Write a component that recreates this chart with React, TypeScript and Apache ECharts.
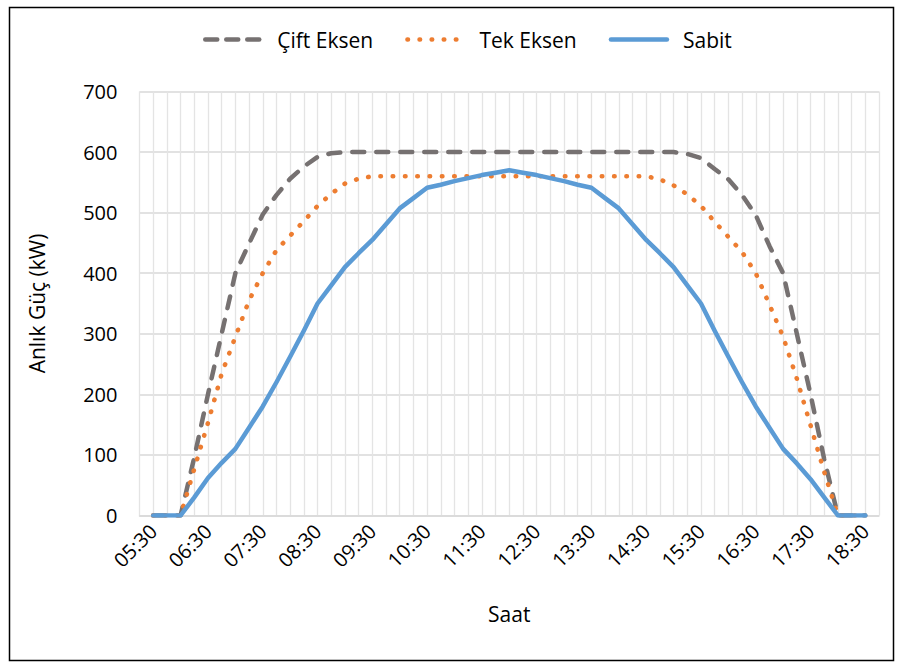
import React, { useEffect, useRef } from "react";
import * as echarts from "echarts";

// Quarter-hour time stamps of the day (x axis)
const times: string[] = [
  "05:30", "05:45", "06:00", "06:15", "06:30", "06:45", "07:00", "07:15",
  "07:30", "07:45", "08:00", "08:15", "08:30", "08:45", "09:00", "09:15",
  "09:30", "09:45", "10:00", "10:15", "10:30", "10:45", "11:00", "11:15",
  "11:30", "11:45", "12:00", "12:15", "12:30", "12:45", "13:00", "13:15",
  "13:30", "13:45", "14:00", "14:15", "14:30", "14:45", "15:00", "15:15",
  "15:30", "15:45", "16:00", "16:15", "16:30", "16:45", "17:00", "17:15",
  "17:30", "17:45", "18:00", "18:15", "18:30",
];

// Instantaneous power (kW) — dual-axis tracking
const ciftEksen: number[] = [
  0, 0, 0, 96, 200, 300, 400, 449, 497, 529, 556, 576, 592, 598, 600, 600,
  600, 600, 600, 600, 600, 600, 600, 600, 600, 600, 600, 600, 600, 600, 600, 600,
  600, 600, 600, 600, 600, 600, 600, 597, 590, 572, 555, 529, 496, 445, 400, 300,
  200, 93, 0, 0, 0,
];

// Instantaneous power (kW) — single-axis tracking
const tekEksen: number[] = [
  0, 0, 0, 77, 153, 234, 295, 355, 400, 438, 462, 486, 511, 531, 548, 556,
  560, 560, 560, 560, 560, 560, 560, 560, 560, 560, 560, 560, 560, 560, 560, 560,
  560, 560, 560, 560, 560, 555, 545, 530, 511, 485, 460, 435, 400, 348, 295, 226,
  149, 72, 0, 0, 0,
];

// Instantaneous power (kW) — fixed panels
const sabit: number[] = [
  0, 0, 0, 30, 62, 87, 110, 145, 180, 220, 262, 305, 350, 380, 410, 433,
  455, 481, 507, 524, 541, 546, 552, 557, 562, 566, 570, 566, 562, 557, 552, 546,
  541, 524, 507, 481, 455, 433, 410, 380, 350, 305, 262, 220, 180, 145, 110, 86,
  60, 30, 0, 0, 0,
];

const FONT = "'Open Sans', 'Noto Sans', sans-serif";
const FS = 21;

const GRAY = "#767171";
const ORANGE = "#ED7D31";
const BLUE = "#5B9BD5";

const toMinutes = (t: string): number => {
  const [h, m] = t.split(":").map(Number);
  return h * 60 + m;
};

const fmtTime = (v: number): string => {
  const h = Math.floor(v / 60);
  const m = v % 60;
  return `${String(h).padStart(2, "0")}:${String(m).padStart(2, "0")}`;
};

const pairs = (vals: number[]) => times.map((t, i) => [toMinutes(t), vals[i]]);

export default function App() {
  const ref = useRef<HTMLDivElement>(null);

  useEffect(() => {
    if (!ref.current) return;
    const chart = echarts.init(ref.current, undefined, { renderer: "svg" });
    const firstLabel = toMinutes(times[0]);

    chart.setOption({
      animation: false,
      backgroundColor: "#fff",
      textStyle: { fontFamily: FONT },
      graphic: [
        {
          type: "rect",
          silent: true,
          z: -10,
          shape: { x: 9.5, y: 7.5, width: 884, height: 653 },
          style: { fill: "none", stroke: "#000", lineWidth: 1.5 },
        },
      ],
      legend: {
        top: 24,
        left: 198,
        itemWidth: 56,
        itemHeight: 14,
        itemGap: 32,
        itemStyle: { opacity: 0 },
        lineStyle: { width: 4.5, cap: "round" },
        textStyle: {
          fontFamily: FONT,
          fontSize: FS,
          color: "#000",
          padding: [0, 0, 0, 11],
        },
        data: [
          { name: "Çift Eksen", lineStyle: { type: [12, 9], width: 4.5, cap: "round" } },
          { name: "Tek Eksen", lineStyle: { type: [0.5, 11.6], width: 4.6, cap: "round" } },
          { name: "Sabit", lineStyle: { width: 4.5, cap: "round" } },
        ],
      },
      grid: { left: 139.5, right: 25, top: 91.5, bottom: 152.5, containLabel: false },
      xAxis: {
        type: "value",
        min: 315,
        max: 1125,
        interval: 15,
        name: "Saat",
        nameLocation: "middle",
        nameGap: 88,
        nameTextStyle: { fontFamily: FONT, fontSize: FS, color: "#000" },
        axisLine: { show: true, lineStyle: { color: "#D9D9D9", width: 1.5 } },
        axisTick: { show: false },
        axisLabel: {
          rotate: 45,
          margin: 12,
          fontFamily: FONT,
          fontSize: 20,
          color: "#000",
          formatter: (v: number) =>
            v >= firstLabel && (v - firstLabel) % 60 === 0 ? fmtTime(v) : "",
        },
        splitLine: { show: true, lineStyle: { color: "#E4E4E4", width: 1.3 } },
      },
      yAxis: {
        type: "value",
        min: 0,
        max: 700,
        interval: 100,
        name: "Anlık Güç (kW)",
        nameLocation: "middle",
        nameGap: 92,
        nameTextStyle: { fontFamily: FONT, fontSize: FS, color: "#000" },
        axisLine: { show: false },
        axisTick: { show: false },
        axisLabel: { margin: 22, fontFamily: FONT, fontSize: 20, color: "#000" },
        splitLine: { show: true, lineStyle: { color: "#D9D9D9", width: 1.5 } },
      },
      series: [
        {
          name: "Çift Eksen",
          type: "line",
          data: pairs(ciftEksen),
          symbol: "none",
          lineStyle: { color: GRAY, width: 4.5, type: [12, 12], cap: "round", join: "round" },
          itemStyle: { color: GRAY },
        },
        {
          name: "Tek Eksen",
          type: "line",
          data: pairs(tekEksen),
          symbol: "none",
          lineStyle: { color: ORANGE, width: 4.6, type: [0.5, 11.8], cap: "round", join: "round" },
          itemStyle: { color: ORANGE },
        },
        {
          name: "Sabit",
          type: "line",
          data: pairs(sabit),
          symbol: "none",
          lineStyle: { color: BLUE, width: 4.5, cap: "round", join: "round" },
          itemStyle: { color: BLUE },
        },
      ],
    });

    return () => chart.dispose();
  }, []);

  return (
    <div
      ref={ref}
      style={{ position: "fixed", left: 0, top: 0, width: 904, height: 668 }}
    />
  );
}
